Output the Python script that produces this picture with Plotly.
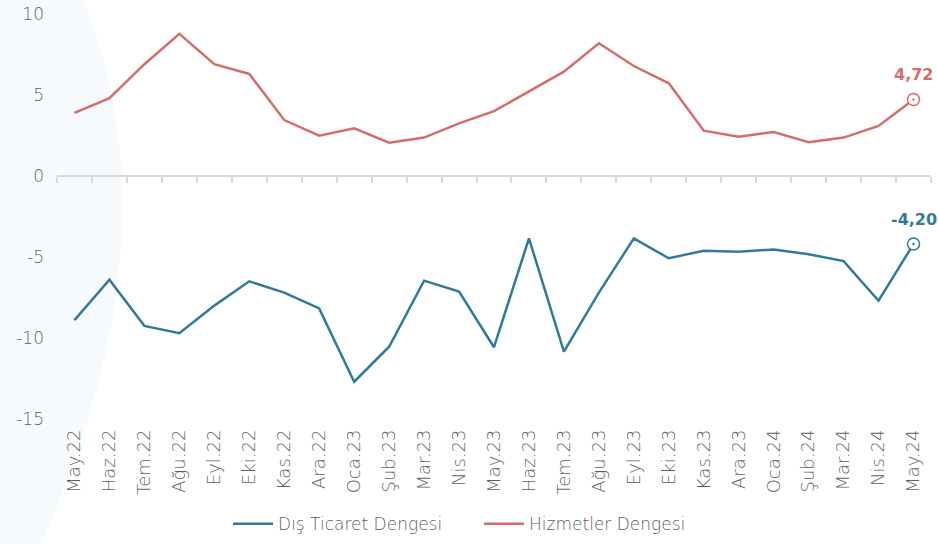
import plotly.graph_objects as go

months = ["May.22", "Haz.22", "Tem.22", "Ağu.22", "Eyl.22", "Eki.22", "Kas.22", "Ara.22",
          "Oca.23", "Şub.23", "Mar.23", "Nis.23", "May.23", "Haz.23", "Tem.23", "Ağu.23",
          "Eyl.23", "Eki.23", "Kas.23", "Ara.23", "Oca.24", "Şub.24", "Mar.24", "Nis.24", "May.24"]

dis_ticaret = [-8.9, -6.4, -9.25, -9.7, -8.0, -6.5, -7.2, -8.17,
               -12.7, -10.54, -6.46, -7.14, -10.57, -3.85, -10.84, -7.2,
               -3.85, -5.08, -4.61, -4.67, -4.53, -4.83, -5.25, -7.7, -4.20]

hizmetler = [3.9, 4.8, 6.9, 8.77, 6.9, 6.3, 3.45, 2.49,
             2.94, 2.06, 2.37, 3.25, 4.0, 5.2, 6.44, 8.19,
             6.79, 5.72, 2.8, 2.43, 2.72, 2.08, 2.37, 3.09, 4.72]

y_ticks = [10, 5, 0, -5, -10, -15]

BLUE = "#2f7b99"
RED = "#d56d68"
FONT = "DejaVu Sans"
GREY = "#5f5f5f"

fig = go.Figure()

fig.add_trace(go.Scatter(x=months, y=dis_ticaret, mode="lines", name="Dış Ticaret Dengesi",
                         line=dict(color=BLUE, width=2.5), hoverinfo="skip"))
fig.add_trace(go.Scatter(x=months, y=hizmetler, mode="lines", name="Hizmetler Dengesi",
                         line=dict(color=RED, width=2.5), hoverinfo="skip"))

# last-point markers
for vals, col in [(dis_ticaret, BLUE), (hizmetler, RED)]:
    fig.add_trace(go.Scatter(x=[months[-1]], y=[vals[-1]], mode="markers", showlegend=False,
                             marker=dict(symbol="circle-dot", size=12, color="white",
                                         line=dict(color=col, width=1.5)),
                             hoverinfo="skip", cliponaxis=False))
    fig.add_annotation(x=months[-1], y=vals[-1], text=f"<b>{vals[-1]:.2f}".replace(".", ",") + "</b>",
                       showarrow=False, yshift=25, xshift=0,
                       font=dict(family=FONT, size=16, color=col))

# invisible trace for the zero-line axis
fig.add_trace(go.Scatter(x=months, y=[0] * len(months), xaxis="x2", mode="lines",
                         line=dict(width=0), opacity=0, showlegend=False, hoverinfo="skip"))

# faint decorative swoosh
fig.add_shape(type="path", xref="paper", yref="paper", layer="below", line=dict(width=0),
              fillcolor="rgba(230,241,245,0.35)",
              path="M -0.066,1.035 L 0.03,1.035 Q 0.14,0.45 -0.02,-0.32 L -0.066,-0.32 Z")

fig.update_layout(
    width=938, height=544,
    margin=dict(l=57, r=7, t=14, b=125, autoexpand=False),
    paper_bgcolor="white", plot_bgcolor="rgba(0,0,0,0)",
    font=dict(family=FONT, color=GREY),
    showlegend=True,
    legend=dict(orientation="h", x=0.1957, xanchor="left", y=-0.215, yanchor="top",
                font=dict(family=FONT, size=17, color=GREY, weight=200),
                entrywidth=196, entrywidthmode="pixels", itemwidth=40, tracegroupgap=0),
    xaxis=dict(type="category", categoryarray=months, range=[-0.5, 24.5], automargin=False,
               showline=False, showgrid=False, zeroline=False, ticks="",
               tickangle=-90, ticklabelstandoff=6,
               tickfont=dict(family=FONT, size=18, color=GREY, weight=200)),
    xaxis2=dict(type="category", categoryarray=months, range=[-0.5, 24.5], overlaying="x",
                anchor="free", position=0.6, side="bottom", showline=True, linecolor="#d9d9d9",
                linewidth=2, ticks="outside", ticklen=6, tickcolor="#d9d9d9", tickwidth=1.5,
                tickson="boundaries", showticklabels=False, showgrid=False, zeroline=False,
                automargin=False),
    yaxis=dict(range=[-15, 10], tickvals=y_ticks, ticktext=[str(v) for v in y_ticks],
               showgrid=False, zeroline=False, showline=False,
               ticks="", ticklabelstandoff=12, automargin=False,
               tickfont=dict(family=FONT, size=17, color=GREY, weight=200)),
)

fig.write_html("out.html", config={"displayModeBar": False},
               post_script="document.body.style.margin='0';document.body.style.overflow='hidden';")
